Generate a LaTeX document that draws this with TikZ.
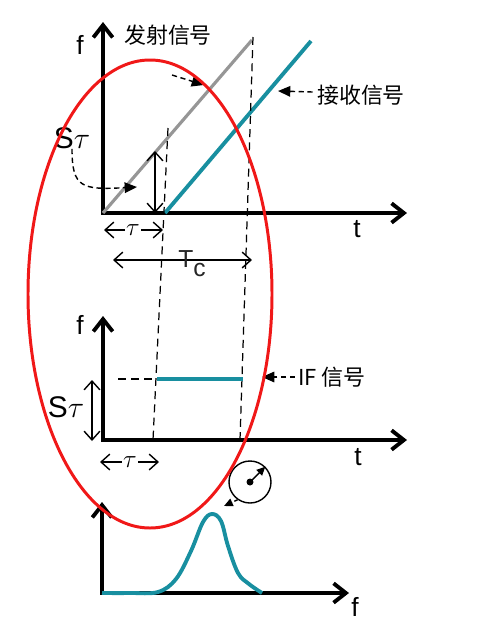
\documentclass[tikz,border=0pt]{standalone}
\usepackage{fontspec}
\setmainfont{Liberation Sans}
\newfontfamily\cjk{Noto Sans CJK SC}
\usetikzlibrary{arrows.meta}
\definecolor{sigteal}{RGB}{24,143,160}
\definecolor{sgray}{RGB}{150,150,150}
\definecolor{ringred}{RGB}{240,24,24}
\begin{document}
\begin{tikzpicture}[x=0.02cm, y=-0.02cm,
  axis/.style={line width=2.2pt, line join=miter, {Straight Barb[length=7pt,width=11pt]}-{Straight Barb[length=7pt,width=11pt]}},
  span/.style={line width=0.8pt, {Straight Barb[length=5pt,width=9pt]}-{Straight Barb[length=5pt,width=9pt]}},
  guide/.style={dash pattern=on 4.5pt off 3pt, line width=0.7pt},
  pointer/.style={dash pattern=on 3pt off 2pt, line width=0.8pt, -{Triangle[length=7pt,width=6pt]}},
  sig/.style={line width=2.2pt, sigteal},
  lbl/.style={font=\fontsize{15}{15}\selectfont, inner sep=0pt},
  zh/.style={font=\fontsize{12.5}{12.5}\selectfont\cjk, inner sep=0pt}]
\useasboundingbox (0,0) rectangle (501,626);
\coordinate (o1) at (103,213);
\coordinate (o2) at (103,440);
\coordinate (o3) at (102,593);
\draw[axis] (103,22) -- (o1) -- (407,213);
\node[lbl] (f1) at (80,45) {f};
\node[lbl] (t1) at (357,229) {t};
\node[zh] (tx) at (168,35) {发射信号};
\node[zh] (rx) at (361,95) {接收信号};
\coordinate (txend) at (252,40);
\coordinate (rxstart) at (165,213);
\coordinate (rxend) at (311,41);
\draw[line width=1.8pt, sgray] (o1) -- (txend);
\draw[sig] (rxstart) -- (rxend);
\draw[guide] (168,128) -- (153,440);
\draw[guide] (253,37) -- (240,440);
\draw[span] (155,213) -- (155,151);
\node[font=\fontsize{17}{17}\selectfont, inner sep=0pt] (s1) at (72,138) {S$\tau$};
\draw[pointer] (s1.south) .. controls (72,188) and (82,190) .. (137,187);
\draw[pointer] (172,75) -- (204,85);
\draw[pointer] (rx.west) ++(-4,-3) -- (278,91);
\draw[span] (104,230) -- (163,230);
\node[fill=white, inner sep=0.5pt, font=\Large] (tau1) at (133,230) {$\tau$};
\draw[span] (113,260) -- (252,260);
\node[lbl, font=\fontsize{14}{14}\selectfont, text=black!85] (tc) at (192,264) {T\raisebox{-0.7ex}{c}};
\draw[axis] (103,316) -- (o2) -- (407,440);
\node[lbl] (f2) at (80,325) {f};
\node[lbl] (t2) at (358,457) {t};
\coordinate (ifstart) at (157,379);
\coordinate (ifend) at (243,379);
\draw[sig] (ifstart) -- (ifend);
\draw[guide] (118,379) -- (ifstart);
\draw[span] (92,380) -- (92,441);
\node[font=\fontsize{17}{17}\selectfont, inner sep=0pt] (s2) at (66,407) {S$\tau$};
\node[zh] (ifl) at (332,377) {IF 信号};
\draw[pointer] (ifl.west) ++(-3,0) -- (262,377);
\draw[span] (100,462) -- (159,462);
\node[fill=white, inner sep=0.5pt, font=\Large] (tau2) at (130,462) {$\tau$};
\draw[axis] (102,502) -- (o3) -- (349,593);
\node[lbl] (f3) at (355,607) {f};
\draw[sig, line join=round] plot[smooth, tension=0.6] coordinates {(o3) (130,593) (158,592) (176,579) (191,551) (203,522) (212,514) (221,521) (228,546) (238,573) (249,584) (262,593)};
\node[circle, draw, line width=0.8pt, minimum size=42*0.02cm, inner sep=0pt] (ring) at (250,482) {};
\fill (ring.center) circle (3.5);
\draw[line width=0.8pt, -{Triangle[length=5pt,width=4.5pt]}] (ring.center) -- (ring.45);
\draw[dash pattern=on 2pt off 1.5pt, line width=0.8pt, -{Triangle[length=5pt,width=4.5pt]}] (ring.235) -- (224,506);
\draw[ringred, line width=1.7pt] (150,294) ellipse (122 and 234);
\end{tikzpicture}
\end{document}
